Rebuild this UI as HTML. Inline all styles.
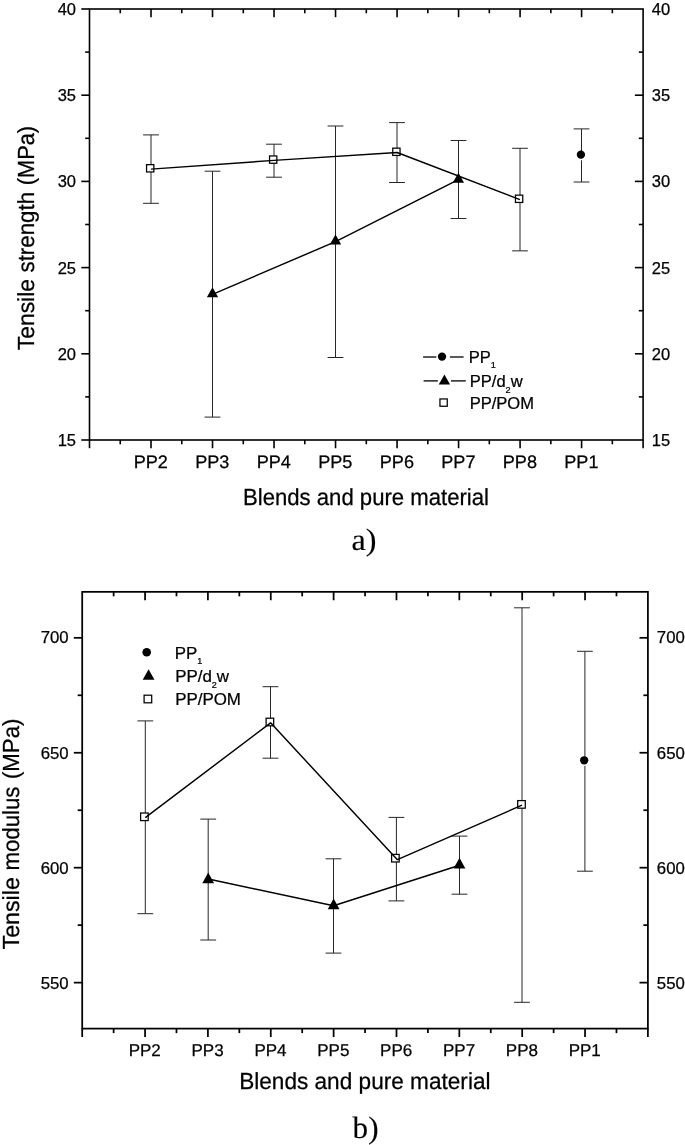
<!DOCTYPE html><html><head><meta charset="utf-8"><title>Tensile charts</title>
<style>html,body{margin:0;padding:0;background:#fff}svg{display:block}</style></head><body>
<svg width="685" height="1145" viewBox="0 0 685 1145">
<rect width="685" height="1145" fill="#fff"/>
<line x1="151.00" y1="134.90" x2="151.00" y2="203.30" stroke="#262626" stroke-width="1.0"/>
<line x1="143.10" y1="134.90" x2="158.90" y2="134.90" stroke="#262626" stroke-width="1.0"/>
<line x1="143.10" y1="203.30" x2="158.90" y2="203.30" stroke="#262626" stroke-width="1.0"/>
<line x1="212.50" y1="171.20" x2="212.50" y2="417.10" stroke="#262626" stroke-width="1.0"/>
<line x1="204.60" y1="171.20" x2="220.40" y2="171.20" stroke="#262626" stroke-width="1.0"/>
<line x1="204.60" y1="417.10" x2="220.40" y2="417.10" stroke="#262626" stroke-width="1.0"/>
<line x1="274.00" y1="144.20" x2="274.00" y2="177.20" stroke="#262626" stroke-width="1.0"/>
<line x1="266.10" y1="144.20" x2="281.90" y2="144.20" stroke="#262626" stroke-width="1.0"/>
<line x1="266.10" y1="177.20" x2="281.90" y2="177.20" stroke="#262626" stroke-width="1.0"/>
<line x1="335.50" y1="126.00" x2="335.50" y2="357.50" stroke="#262626" stroke-width="1.0"/>
<line x1="327.60" y1="126.00" x2="343.40" y2="126.00" stroke="#262626" stroke-width="1.0"/>
<line x1="327.60" y1="357.50" x2="343.40" y2="357.50" stroke="#262626" stroke-width="1.0"/>
<line x1="397.00" y1="122.60" x2="397.00" y2="182.50" stroke="#262626" stroke-width="1.0"/>
<line x1="389.10" y1="122.60" x2="404.90" y2="122.60" stroke="#262626" stroke-width="1.0"/>
<line x1="389.10" y1="182.50" x2="404.90" y2="182.50" stroke="#262626" stroke-width="1.0"/>
<line x1="458.50" y1="140.50" x2="458.50" y2="218.50" stroke="#262626" stroke-width="1.0"/>
<line x1="450.60" y1="140.50" x2="466.40" y2="140.50" stroke="#262626" stroke-width="1.0"/>
<line x1="450.60" y1="218.50" x2="466.40" y2="218.50" stroke="#262626" stroke-width="1.0"/>
<line x1="520.00" y1="148.30" x2="520.00" y2="250.85" stroke="#262626" stroke-width="1.0"/>
<line x1="512.10" y1="148.30" x2="527.90" y2="148.30" stroke="#262626" stroke-width="1.0"/>
<line x1="512.10" y1="250.85" x2="527.90" y2="250.85" stroke="#262626" stroke-width="1.0"/>
<line x1="581.50" y1="128.90" x2="581.50" y2="182.00" stroke="#262626" stroke-width="1.0"/>
<line x1="573.60" y1="128.90" x2="589.40" y2="128.90" stroke="#262626" stroke-width="1.0"/>
<line x1="573.60" y1="182.00" x2="589.40" y2="182.00" stroke="#262626" stroke-width="1.0"/>
<rect x="146.55" y="164.65" width="7.3" height="7.3" fill="#fff" stroke="#000" stroke-width="1.25"/>
<rect x="269.55" y="155.95" width="7.3" height="7.3" fill="#fff" stroke="#000" stroke-width="1.25"/>
<rect x="392.75" y="148.15" width="7.3" height="7.3" fill="#fff" stroke="#000" stroke-width="1.25"/>
<rect x="515.45" y="195.15" width="7.3" height="7.3" fill="#fff" stroke="#000" stroke-width="1.25"/>
<polygon points="212.50,287.33 218.15,297.33 206.85,297.33" fill="#000"/>
<polygon points="335.50,234.53 341.15,244.53 329.85,244.53" fill="#000"/>
<polygon points="458.40,172.63 464.05,182.63 452.75,182.63" fill="#000"/>
<line x1="581.40" y1="158.15" x2="581.40" y2="160.25" stroke="#fff" stroke-width="2.4"/>
<circle cx="580.90" cy="154.65" r="4.15" fill="#000"/>
<polyline points="151.00,169.10 274.00,160.40 397.10,152.50 519.90,199.60" fill="none" stroke="#000" stroke-width="1.45" stroke-linejoin="round"/>
<polyline points="212.50,294.40 335.50,241.60 458.40,179.60" fill="none" stroke="#000" stroke-width="1.45" stroke-linejoin="round"/>
<rect x="89.50" y="9.00" width="553.60" height="431.00" fill="none" stroke="#000" stroke-width="1.6"/>
<line x1="120.26" y1="9.00" x2="120.26" y2="13.30" stroke="#000" stroke-width="1.6"/>
<line x1="120.26" y1="440.00" x2="120.26" y2="444.30" stroke="#000" stroke-width="1.6"/>
<line x1="151.01" y1="9.00" x2="151.01" y2="17.20" stroke="#000" stroke-width="1.6"/>
<line x1="151.01" y1="440.00" x2="151.01" y2="448.20" stroke="#000" stroke-width="1.6"/>
<line x1="181.77" y1="9.00" x2="181.77" y2="13.30" stroke="#000" stroke-width="1.6"/>
<line x1="181.77" y1="440.00" x2="181.77" y2="444.30" stroke="#000" stroke-width="1.6"/>
<line x1="212.52" y1="9.00" x2="212.52" y2="17.20" stroke="#000" stroke-width="1.6"/>
<line x1="212.52" y1="440.00" x2="212.52" y2="448.20" stroke="#000" stroke-width="1.6"/>
<line x1="243.28" y1="9.00" x2="243.28" y2="13.30" stroke="#000" stroke-width="1.6"/>
<line x1="243.28" y1="440.00" x2="243.28" y2="444.30" stroke="#000" stroke-width="1.6"/>
<line x1="274.03" y1="9.00" x2="274.03" y2="17.20" stroke="#000" stroke-width="1.6"/>
<line x1="274.03" y1="440.00" x2="274.03" y2="448.20" stroke="#000" stroke-width="1.6"/>
<line x1="304.79" y1="9.00" x2="304.79" y2="13.30" stroke="#000" stroke-width="1.6"/>
<line x1="304.79" y1="440.00" x2="304.79" y2="444.30" stroke="#000" stroke-width="1.6"/>
<line x1="335.54" y1="9.00" x2="335.54" y2="17.20" stroke="#000" stroke-width="1.6"/>
<line x1="335.54" y1="440.00" x2="335.54" y2="448.20" stroke="#000" stroke-width="1.6"/>
<line x1="366.30" y1="9.00" x2="366.30" y2="13.30" stroke="#000" stroke-width="1.6"/>
<line x1="366.30" y1="440.00" x2="366.30" y2="444.30" stroke="#000" stroke-width="1.6"/>
<line x1="397.06" y1="9.00" x2="397.06" y2="17.20" stroke="#000" stroke-width="1.6"/>
<line x1="397.06" y1="440.00" x2="397.06" y2="448.20" stroke="#000" stroke-width="1.6"/>
<line x1="427.81" y1="9.00" x2="427.81" y2="13.30" stroke="#000" stroke-width="1.6"/>
<line x1="427.81" y1="440.00" x2="427.81" y2="444.30" stroke="#000" stroke-width="1.6"/>
<line x1="458.57" y1="9.00" x2="458.57" y2="17.20" stroke="#000" stroke-width="1.6"/>
<line x1="458.57" y1="440.00" x2="458.57" y2="448.20" stroke="#000" stroke-width="1.6"/>
<line x1="489.32" y1="9.00" x2="489.32" y2="13.30" stroke="#000" stroke-width="1.6"/>
<line x1="489.32" y1="440.00" x2="489.32" y2="444.30" stroke="#000" stroke-width="1.6"/>
<line x1="520.08" y1="9.00" x2="520.08" y2="17.20" stroke="#000" stroke-width="1.6"/>
<line x1="520.08" y1="440.00" x2="520.08" y2="448.20" stroke="#000" stroke-width="1.6"/>
<line x1="550.83" y1="9.00" x2="550.83" y2="13.30" stroke="#000" stroke-width="1.6"/>
<line x1="550.83" y1="440.00" x2="550.83" y2="444.30" stroke="#000" stroke-width="1.6"/>
<line x1="581.59" y1="9.00" x2="581.59" y2="17.20" stroke="#000" stroke-width="1.6"/>
<line x1="581.59" y1="440.00" x2="581.59" y2="448.20" stroke="#000" stroke-width="1.6"/>
<line x1="612.34" y1="9.00" x2="612.34" y2="13.30" stroke="#000" stroke-width="1.6"/>
<line x1="612.34" y1="440.00" x2="612.34" y2="444.30" stroke="#000" stroke-width="1.6"/>
<line x1="89.50" y1="440.00" x2="89.50" y2="448.20" stroke="#000" stroke-width="1.6"/>
<line x1="643.10" y1="440.00" x2="643.10" y2="448.20" stroke="#000" stroke-width="1.6"/>
<line x1="81.30" y1="440.00" x2="89.50" y2="440.00" stroke="#000" stroke-width="1.6"/>
<text x="76.00" y="445.50" font-size="16.5" text-anchor="end" font-family='"Liberation Sans", sans-serif' stroke="#000" stroke-width="0.25" >15</text>
<text x="651.80" y="445.50" font-size="16.5" text-anchor="start" font-family='"Liberation Sans", sans-serif' stroke="#000" stroke-width="0.25" >15</text>
<line x1="85.20" y1="396.90" x2="89.50" y2="396.90" stroke="#000" stroke-width="1.6"/>
<line x1="638.80" y1="396.90" x2="643.10" y2="396.90" stroke="#000" stroke-width="1.6"/>
<line x1="81.30" y1="353.80" x2="89.50" y2="353.80" stroke="#000" stroke-width="1.6"/>
<line x1="634.90" y1="353.80" x2="643.10" y2="353.80" stroke="#000" stroke-width="1.6"/>
<text x="76.00" y="359.70" font-size="16.5" text-anchor="end" font-family='"Liberation Sans", sans-serif' stroke="#000" stroke-width="0.25" >20</text>
<text x="651.80" y="359.70" font-size="16.5" text-anchor="start" font-family='"Liberation Sans", sans-serif' stroke="#000" stroke-width="0.25" >20</text>
<line x1="85.20" y1="310.70" x2="89.50" y2="310.70" stroke="#000" stroke-width="1.6"/>
<line x1="638.80" y1="310.70" x2="643.10" y2="310.70" stroke="#000" stroke-width="1.6"/>
<line x1="81.30" y1="267.60" x2="89.50" y2="267.60" stroke="#000" stroke-width="1.6"/>
<line x1="634.90" y1="267.60" x2="643.10" y2="267.60" stroke="#000" stroke-width="1.6"/>
<text x="76.00" y="273.50" font-size="16.5" text-anchor="end" font-family='"Liberation Sans", sans-serif' stroke="#000" stroke-width="0.25" >25</text>
<text x="651.80" y="273.50" font-size="16.5" text-anchor="start" font-family='"Liberation Sans", sans-serif' stroke="#000" stroke-width="0.25" >25</text>
<line x1="85.20" y1="224.50" x2="89.50" y2="224.50" stroke="#000" stroke-width="1.6"/>
<line x1="638.80" y1="224.50" x2="643.10" y2="224.50" stroke="#000" stroke-width="1.6"/>
<line x1="81.30" y1="181.40" x2="89.50" y2="181.40" stroke="#000" stroke-width="1.6"/>
<line x1="634.90" y1="181.40" x2="643.10" y2="181.40" stroke="#000" stroke-width="1.6"/>
<text x="76.00" y="187.30" font-size="16.5" text-anchor="end" font-family='"Liberation Sans", sans-serif' stroke="#000" stroke-width="0.25" >30</text>
<text x="651.80" y="187.30" font-size="16.5" text-anchor="start" font-family='"Liberation Sans", sans-serif' stroke="#000" stroke-width="0.25" >30</text>
<line x1="85.20" y1="138.30" x2="89.50" y2="138.30" stroke="#000" stroke-width="1.6"/>
<line x1="638.80" y1="138.30" x2="643.10" y2="138.30" stroke="#000" stroke-width="1.6"/>
<line x1="81.30" y1="95.20" x2="89.50" y2="95.20" stroke="#000" stroke-width="1.6"/>
<line x1="634.90" y1="95.20" x2="643.10" y2="95.20" stroke="#000" stroke-width="1.6"/>
<text x="76.00" y="101.10" font-size="16.5" text-anchor="end" font-family='"Liberation Sans", sans-serif' stroke="#000" stroke-width="0.25" >35</text>
<text x="651.80" y="101.10" font-size="16.5" text-anchor="start" font-family='"Liberation Sans", sans-serif' stroke="#000" stroke-width="0.25" >35</text>
<line x1="85.20" y1="52.10" x2="89.50" y2="52.10" stroke="#000" stroke-width="1.6"/>
<line x1="638.80" y1="52.10" x2="643.10" y2="52.10" stroke="#000" stroke-width="1.6"/>
<line x1="81.30" y1="9.00" x2="89.50" y2="9.00" stroke="#000" stroke-width="1.6"/>
<text x="76.00" y="14.50" font-size="16.5" text-anchor="end" font-family='"Liberation Sans", sans-serif' stroke="#000" stroke-width="0.25" >40</text>
<text x="651.80" y="14.50" font-size="16.5" text-anchor="start" font-family='"Liberation Sans", sans-serif' stroke="#000" stroke-width="0.25" >40</text>
<text x="150.81" y="467.80" font-size="18.1" text-anchor="middle" font-family='"Liberation Sans", sans-serif' stroke="#000" stroke-width="0.25" text-rendering="geometricPrecision">PP2</text>
<text x="212.32" y="467.80" font-size="18.1" text-anchor="middle" font-family='"Liberation Sans", sans-serif' stroke="#000" stroke-width="0.25" text-rendering="geometricPrecision">PP3</text>
<text x="273.83" y="467.80" font-size="18.1" text-anchor="middle" font-family='"Liberation Sans", sans-serif' stroke="#000" stroke-width="0.25" text-rendering="geometricPrecision">PP4</text>
<text x="335.34" y="467.80" font-size="18.1" text-anchor="middle" font-family='"Liberation Sans", sans-serif' stroke="#000" stroke-width="0.25" text-rendering="geometricPrecision">PP5</text>
<text x="396.86" y="467.80" font-size="18.1" text-anchor="middle" font-family='"Liberation Sans", sans-serif' stroke="#000" stroke-width="0.25" text-rendering="geometricPrecision">PP6</text>
<text x="458.37" y="467.80" font-size="18.1" text-anchor="middle" font-family='"Liberation Sans", sans-serif' stroke="#000" stroke-width="0.25" text-rendering="geometricPrecision">PP7</text>
<text x="519.88" y="467.80" font-size="18.1" text-anchor="middle" font-family='"Liberation Sans", sans-serif' stroke="#000" stroke-width="0.25" text-rendering="geometricPrecision">PP8</text>
<text x="581.39" y="467.80" font-size="18.1" text-anchor="middle" font-family='"Liberation Sans", sans-serif' stroke="#000" stroke-width="0.25" text-rendering="geometricPrecision">PP1</text>
<text x="242.97" y="505.40" font-size="23.3" font-family='"Liberation Sans", sans-serif' stroke="#000" stroke-width="0.25" textLength="246.03" lengthAdjust="spacingAndGlyphs" text-rendering="geometricPrecision">Blends and pure material</text>
<text transform="translate(33.90,350.32) rotate(-90)" font-size="23.3" font-family='"Liberation Sans", sans-serif' stroke="#000" stroke-width="0.25" textLength="71.40" lengthAdjust="spacingAndGlyphs" text-rendering="geometricPrecision">Tensile</text>
<text transform="translate(33.90,272.51) rotate(-90)" font-size="23.3" font-family='"Liberation Sans", sans-serif' stroke="#000" stroke-width="0.25" textLength="80.58" lengthAdjust="spacingAndGlyphs" text-rendering="geometricPrecision">strength</text>
<text transform="translate(33.90,185.26) rotate(-90)" font-size="23.3" font-family='"Liberation Sans", sans-serif' stroke="#000" stroke-width="0.25" textLength="59.32" lengthAdjust="spacingAndGlyphs" text-rendering="geometricPrecision">(MPa)</text>
<text x="351.57" y="549.60" font-size="31" font-family='"Liberation Serif", serif' stroke="#000" stroke-width="0.15" textLength="24.97" lengthAdjust="spacingAndGlyphs" text-rendering="geometricPrecision">a)</text>
<line x1="423.10" y1="357.00" x2="436.30" y2="357.00" stroke="#000" stroke-width="1.3"/>
<line x1="449.90" y1="357.00" x2="463.60" y2="357.00" stroke="#000" stroke-width="1.3"/>
<circle cx="442.00" cy="356.60" r="4.15" fill="#000"/>
<line x1="423.60" y1="380.90" x2="437.90" y2="380.90" stroke="#000" stroke-width="1.3"/>
<line x1="451.00" y1="380.90" x2="465.80" y2="380.90" stroke="#000" stroke-width="1.3"/>
<polygon points="444.40,374.53 450.05,384.53 438.75,384.53" fill="#000"/>
<rect x="439.95" y="398.95" width="7.3" height="7.3" fill="#fff" stroke="#000" stroke-width="1.25"/>
<text transform="translate(468.63,362.50) scale(1.035,1)" font-size="16" font-family='"Liberation Sans", sans-serif' stroke="#000" stroke-width="0.25"><tspan y="0">PP</tspan><tspan font-size="8.8" dy="5.9">1</tspan></text>
<text transform="translate(469.73,386.70) scale(1.035,1)" font-size="16" font-family='"Liberation Sans", sans-serif' stroke="#000" stroke-width="0.25"><tspan y="0">PP/d</tspan><tspan font-size="8.8" dy="5.9">2</tspan><tspan y="0">w</tspan></text>
<text transform="translate(469.63,409.10) scale(1.035,1)" font-size="16" font-family='"Liberation Sans", sans-serif' stroke="#000" stroke-width="0.25"><tspan y="0">PP/POM</tspan></text>
<line x1="145.30" y1="720.90" x2="145.30" y2="913.70" stroke="#262626" stroke-width="1.0"/>
<line x1="137.40" y1="720.90" x2="153.20" y2="720.90" stroke="#262626" stroke-width="1.0"/>
<line x1="137.40" y1="913.70" x2="153.20" y2="913.70" stroke="#262626" stroke-width="1.0"/>
<line x1="208.20" y1="819.10" x2="208.20" y2="940.00" stroke="#262626" stroke-width="1.0"/>
<line x1="200.30" y1="819.10" x2="216.10" y2="819.10" stroke="#262626" stroke-width="1.0"/>
<line x1="200.30" y1="940.00" x2="216.10" y2="940.00" stroke="#262626" stroke-width="1.0"/>
<line x1="270.50" y1="686.70" x2="270.50" y2="758.20" stroke="#262626" stroke-width="1.0"/>
<line x1="262.60" y1="686.70" x2="278.40" y2="686.70" stroke="#262626" stroke-width="1.0"/>
<line x1="262.60" y1="758.20" x2="278.40" y2="758.20" stroke="#262626" stroke-width="1.0"/>
<line x1="333.50" y1="858.80" x2="333.50" y2="953.10" stroke="#262626" stroke-width="1.0"/>
<line x1="325.60" y1="858.80" x2="341.40" y2="858.80" stroke="#262626" stroke-width="1.0"/>
<line x1="325.60" y1="953.10" x2="341.40" y2="953.10" stroke="#262626" stroke-width="1.0"/>
<line x1="396.40" y1="817.40" x2="396.40" y2="900.90" stroke="#262626" stroke-width="1.0"/>
<line x1="388.50" y1="817.40" x2="404.30" y2="817.40" stroke="#262626" stroke-width="1.0"/>
<line x1="388.50" y1="900.90" x2="404.30" y2="900.90" stroke="#262626" stroke-width="1.0"/>
<line x1="459.50" y1="836.10" x2="459.50" y2="894.20" stroke="#262626" stroke-width="1.0"/>
<line x1="451.60" y1="836.10" x2="467.40" y2="836.10" stroke="#262626" stroke-width="1.0"/>
<line x1="451.60" y1="894.20" x2="467.40" y2="894.20" stroke="#262626" stroke-width="1.0"/>
<line x1="522.00" y1="607.80" x2="522.00" y2="1002.30" stroke="#262626" stroke-width="1.0"/>
<line x1="514.10" y1="607.80" x2="529.90" y2="607.80" stroke="#262626" stroke-width="1.0"/>
<line x1="514.10" y1="1002.30" x2="529.90" y2="1002.30" stroke="#262626" stroke-width="1.0"/>
<line x1="584.90" y1="651.30" x2="584.90" y2="871.20" stroke="#262626" stroke-width="1.0"/>
<line x1="577.00" y1="651.30" x2="592.80" y2="651.30" stroke="#262626" stroke-width="1.0"/>
<line x1="577.00" y1="871.20" x2="592.80" y2="871.20" stroke="#262626" stroke-width="1.0"/>
<rect x="140.60" y="813.00" width="7.592" height="7.592" fill="#fff" stroke="#000" stroke-width="1.25"/>
<rect x="266.10" y="718.20" width="7.592" height="7.592" fill="#fff" stroke="#000" stroke-width="1.25"/>
<rect x="391.60" y="854.40" width="7.592" height="7.592" fill="#fff" stroke="#000" stroke-width="1.25"/>
<rect x="517.70" y="800.60" width="7.592" height="7.592" fill="#fff" stroke="#000" stroke-width="1.25"/>
<polygon points="208.20,872.49 214.08,883.31 202.32,883.31" fill="#000"/>
<polygon points="333.65,898.39 339.53,909.21 327.77,909.21" fill="#000"/>
<polygon points="459.50,857.69 465.38,868.51 453.62,868.51" fill="#000"/>
<line x1="584.70" y1="763.80" x2="584.70" y2="765.90" stroke="#fff" stroke-width="2.4"/>
<circle cx="584.20" cy="760.30" r="4.15" fill="#000"/>
<polyline points="145.30,817.60 270.60,722.80 397.40,859.70 522.00,805.20" fill="none" stroke="#000" stroke-width="1.45" stroke-linejoin="round"/>
<polyline points="208.30,879.00 333.60,905.80 459.60,865.30" fill="none" stroke="#000" stroke-width="1.45" stroke-linejoin="round"/>
<rect x="82.20" y="591.85" width="565.70" height="436.75" fill="none" stroke="#000" stroke-width="1.75"/>
<line x1="113.63" y1="591.85" x2="113.63" y2="596.35" stroke="#000" stroke-width="1.75"/>
<line x1="113.63" y1="1028.60" x2="113.63" y2="1033.10" stroke="#000" stroke-width="1.75"/>
<line x1="145.06" y1="591.85" x2="145.06" y2="600.25" stroke="#000" stroke-width="1.75"/>
<line x1="145.06" y1="1028.60" x2="145.06" y2="1037.00" stroke="#000" stroke-width="1.75"/>
<line x1="176.48" y1="591.85" x2="176.48" y2="596.35" stroke="#000" stroke-width="1.75"/>
<line x1="176.48" y1="1028.60" x2="176.48" y2="1033.10" stroke="#000" stroke-width="1.75"/>
<line x1="207.91" y1="591.85" x2="207.91" y2="600.25" stroke="#000" stroke-width="1.75"/>
<line x1="207.91" y1="1028.60" x2="207.91" y2="1037.00" stroke="#000" stroke-width="1.75"/>
<line x1="239.34" y1="591.85" x2="239.34" y2="596.35" stroke="#000" stroke-width="1.75"/>
<line x1="239.34" y1="1028.60" x2="239.34" y2="1033.10" stroke="#000" stroke-width="1.75"/>
<line x1="270.77" y1="591.85" x2="270.77" y2="600.25" stroke="#000" stroke-width="1.75"/>
<line x1="270.77" y1="1028.60" x2="270.77" y2="1037.00" stroke="#000" stroke-width="1.75"/>
<line x1="302.19" y1="591.85" x2="302.19" y2="596.35" stroke="#000" stroke-width="1.75"/>
<line x1="302.19" y1="1028.60" x2="302.19" y2="1033.10" stroke="#000" stroke-width="1.75"/>
<line x1="333.62" y1="591.85" x2="333.62" y2="600.25" stroke="#000" stroke-width="1.75"/>
<line x1="333.62" y1="1028.60" x2="333.62" y2="1037.00" stroke="#000" stroke-width="1.75"/>
<line x1="365.05" y1="591.85" x2="365.05" y2="596.35" stroke="#000" stroke-width="1.75"/>
<line x1="365.05" y1="1028.60" x2="365.05" y2="1033.10" stroke="#000" stroke-width="1.75"/>
<line x1="396.48" y1="591.85" x2="396.48" y2="600.25" stroke="#000" stroke-width="1.75"/>
<line x1="396.48" y1="1028.60" x2="396.48" y2="1037.00" stroke="#000" stroke-width="1.75"/>
<line x1="427.91" y1="591.85" x2="427.91" y2="596.35" stroke="#000" stroke-width="1.75"/>
<line x1="427.91" y1="1028.60" x2="427.91" y2="1033.10" stroke="#000" stroke-width="1.75"/>
<line x1="459.33" y1="591.85" x2="459.33" y2="600.25" stroke="#000" stroke-width="1.75"/>
<line x1="459.33" y1="1028.60" x2="459.33" y2="1037.00" stroke="#000" stroke-width="1.75"/>
<line x1="490.76" y1="591.85" x2="490.76" y2="596.35" stroke="#000" stroke-width="1.75"/>
<line x1="490.76" y1="1028.60" x2="490.76" y2="1033.10" stroke="#000" stroke-width="1.75"/>
<line x1="522.19" y1="591.85" x2="522.19" y2="600.25" stroke="#000" stroke-width="1.75"/>
<line x1="522.19" y1="1028.60" x2="522.19" y2="1037.00" stroke="#000" stroke-width="1.75"/>
<line x1="553.62" y1="591.85" x2="553.62" y2="596.35" stroke="#000" stroke-width="1.75"/>
<line x1="553.62" y1="1028.60" x2="553.62" y2="1033.10" stroke="#000" stroke-width="1.75"/>
<line x1="585.04" y1="591.85" x2="585.04" y2="600.25" stroke="#000" stroke-width="1.75"/>
<line x1="585.04" y1="1028.60" x2="585.04" y2="1037.00" stroke="#000" stroke-width="1.75"/>
<line x1="616.47" y1="591.85" x2="616.47" y2="596.35" stroke="#000" stroke-width="1.75"/>
<line x1="616.47" y1="1028.60" x2="616.47" y2="1033.10" stroke="#000" stroke-width="1.75"/>
<line x1="82.20" y1="1028.60" x2="82.20" y2="1037.00" stroke="#000" stroke-width="1.75"/>
<line x1="647.90" y1="1028.60" x2="647.90" y2="1037.00" stroke="#000" stroke-width="1.75"/>
<line x1="73.80" y1="982.63" x2="82.20" y2="982.63" stroke="#000" stroke-width="1.75"/>
<line x1="639.50" y1="982.63" x2="647.90" y2="982.63" stroke="#000" stroke-width="1.75"/>
<text x="68.70" y="988.53" font-size="16.8" text-anchor="end" font-family='"Liberation Sans", sans-serif' stroke="#000" stroke-width="0.25" >550</text>
<text x="656.80" y="988.53" font-size="16.8" text-anchor="start" font-family='"Liberation Sans", sans-serif' stroke="#000" stroke-width="0.25" >550</text>
<line x1="77.70" y1="925.16" x2="82.20" y2="925.16" stroke="#000" stroke-width="1.75"/>
<line x1="643.40" y1="925.16" x2="647.90" y2="925.16" stroke="#000" stroke-width="1.75"/>
<line x1="73.80" y1="867.69" x2="82.20" y2="867.69" stroke="#000" stroke-width="1.75"/>
<line x1="639.50" y1="867.69" x2="647.90" y2="867.69" stroke="#000" stroke-width="1.75"/>
<text x="68.70" y="873.59" font-size="16.8" text-anchor="end" font-family='"Liberation Sans", sans-serif' stroke="#000" stroke-width="0.25" >600</text>
<text x="656.80" y="873.59" font-size="16.8" text-anchor="start" font-family='"Liberation Sans", sans-serif' stroke="#000" stroke-width="0.25" >600</text>
<line x1="77.70" y1="810.22" x2="82.20" y2="810.22" stroke="#000" stroke-width="1.75"/>
<line x1="643.40" y1="810.22" x2="647.90" y2="810.22" stroke="#000" stroke-width="1.75"/>
<line x1="73.80" y1="752.76" x2="82.20" y2="752.76" stroke="#000" stroke-width="1.75"/>
<line x1="639.50" y1="752.76" x2="647.90" y2="752.76" stroke="#000" stroke-width="1.75"/>
<text x="68.70" y="758.86" font-size="16.8" text-anchor="end" font-family='"Liberation Sans", sans-serif' stroke="#000" stroke-width="0.25" >650</text>
<text x="656.80" y="758.86" font-size="16.8" text-anchor="start" font-family='"Liberation Sans", sans-serif' stroke="#000" stroke-width="0.25" >650</text>
<line x1="77.70" y1="695.29" x2="82.20" y2="695.29" stroke="#000" stroke-width="1.75"/>
<line x1="643.40" y1="695.29" x2="647.90" y2="695.29" stroke="#000" stroke-width="1.75"/>
<line x1="73.80" y1="637.82" x2="82.20" y2="637.82" stroke="#000" stroke-width="1.75"/>
<line x1="639.50" y1="637.82" x2="647.90" y2="637.82" stroke="#000" stroke-width="1.75"/>
<text x="68.70" y="643.32" font-size="16.8" text-anchor="end" font-family='"Liberation Sans", sans-serif' stroke="#000" stroke-width="0.25" >700</text>
<text x="656.80" y="643.32" font-size="16.8" text-anchor="start" font-family='"Liberation Sans", sans-serif' stroke="#000" stroke-width="0.25" >700</text>
<text x="144.76" y="1055.80" font-size="17.0" text-anchor="middle" font-family='"Liberation Sans", sans-serif' stroke="#000" stroke-width="0.25" text-rendering="geometricPrecision">PP2</text>
<text x="207.61" y="1055.80" font-size="17.0" text-anchor="middle" font-family='"Liberation Sans", sans-serif' stroke="#000" stroke-width="0.25" text-rendering="geometricPrecision">PP3</text>
<text x="270.47" y="1055.80" font-size="17.0" text-anchor="middle" font-family='"Liberation Sans", sans-serif' stroke="#000" stroke-width="0.25" text-rendering="geometricPrecision">PP4</text>
<text x="333.32" y="1055.80" font-size="17.0" text-anchor="middle" font-family='"Liberation Sans", sans-serif' stroke="#000" stroke-width="0.25" text-rendering="geometricPrecision">PP5</text>
<text x="396.18" y="1055.80" font-size="17.0" text-anchor="middle" font-family='"Liberation Sans", sans-serif' stroke="#000" stroke-width="0.25" text-rendering="geometricPrecision">PP6</text>
<text x="459.03" y="1055.80" font-size="17.0" text-anchor="middle" font-family='"Liberation Sans", sans-serif' stroke="#000" stroke-width="0.25" text-rendering="geometricPrecision">PP7</text>
<text x="521.89" y="1055.80" font-size="17.0" text-anchor="middle" font-family='"Liberation Sans", sans-serif' stroke="#000" stroke-width="0.25" text-rendering="geometricPrecision">PP8</text>
<text x="584.74" y="1055.80" font-size="17.0" text-anchor="middle" font-family='"Liberation Sans", sans-serif' stroke="#000" stroke-width="0.25" text-rendering="geometricPrecision">PP1</text>
<text x="239.13" y="1088.85" font-size="23.3" font-family='"Liberation Sans", sans-serif' stroke="#000" stroke-width="0.25" textLength="251.40" lengthAdjust="spacingAndGlyphs" text-rendering="geometricPrecision">Blends and pure material</text>
<text transform="translate(19.00,949.42) rotate(-90)" font-size="23.3" font-family='"Liberation Sans", sans-serif' stroke="#000" stroke-width="0.25" textLength="72.22" lengthAdjust="spacingAndGlyphs" text-rendering="geometricPrecision">Tensile</text>
<text transform="translate(19.00,870.60) rotate(-90)" font-size="23.3" font-family='"Liberation Sans", sans-serif' stroke="#000" stroke-width="0.25" textLength="84.08" lengthAdjust="spacingAndGlyphs" text-rendering="geometricPrecision">modulus</text>
<text transform="translate(19.00,779.09) rotate(-90)" font-size="23.3" font-family='"Liberation Sans", sans-serif' stroke="#000" stroke-width="0.25" textLength="60.47" lengthAdjust="spacingAndGlyphs" text-rendering="geometricPrecision">(MPa)</text>
<text x="352.60" y="1137.70" font-size="31" font-family='"Liberation Serif", serif' stroke="#000" stroke-width="0.15" textLength="25.94" lengthAdjust="spacingAndGlyphs" text-rendering="geometricPrecision">b)</text>
<circle cx="146.70" cy="652.30" r="4.3" fill="#000"/>
<polygon points="148.60,669.37 154.50,679.77 142.70,679.77" fill="#000"/>
<rect x="144.10" y="695.20" width="7.6" height="7.6" fill="#fff" stroke="#000" stroke-width="1.25"/>
<text transform="translate(174.80,658.50) scale(1.025,1)" font-size="16.5" font-family='"Liberation Sans", sans-serif' stroke="#000" stroke-width="0.25"><tspan y="0">PP</tspan><tspan font-size="8.8" dy="5.9">1</tspan></text>
<text transform="translate(175.20,681.75) scale(1.025,1)" font-size="16.5" font-family='"Liberation Sans", sans-serif' stroke="#000" stroke-width="0.25"><tspan y="0">PP/d</tspan><tspan font-size="8.8" dy="5.9">2</tspan><tspan y="0">w</tspan></text>
<text transform="translate(175.20,704.60) scale(1.025,1)" font-size="16.5" font-family='"Liberation Sans", sans-serif' stroke="#000" stroke-width="0.25"><tspan y="0">PP/POM</tspan></text>
</svg></body></html>
